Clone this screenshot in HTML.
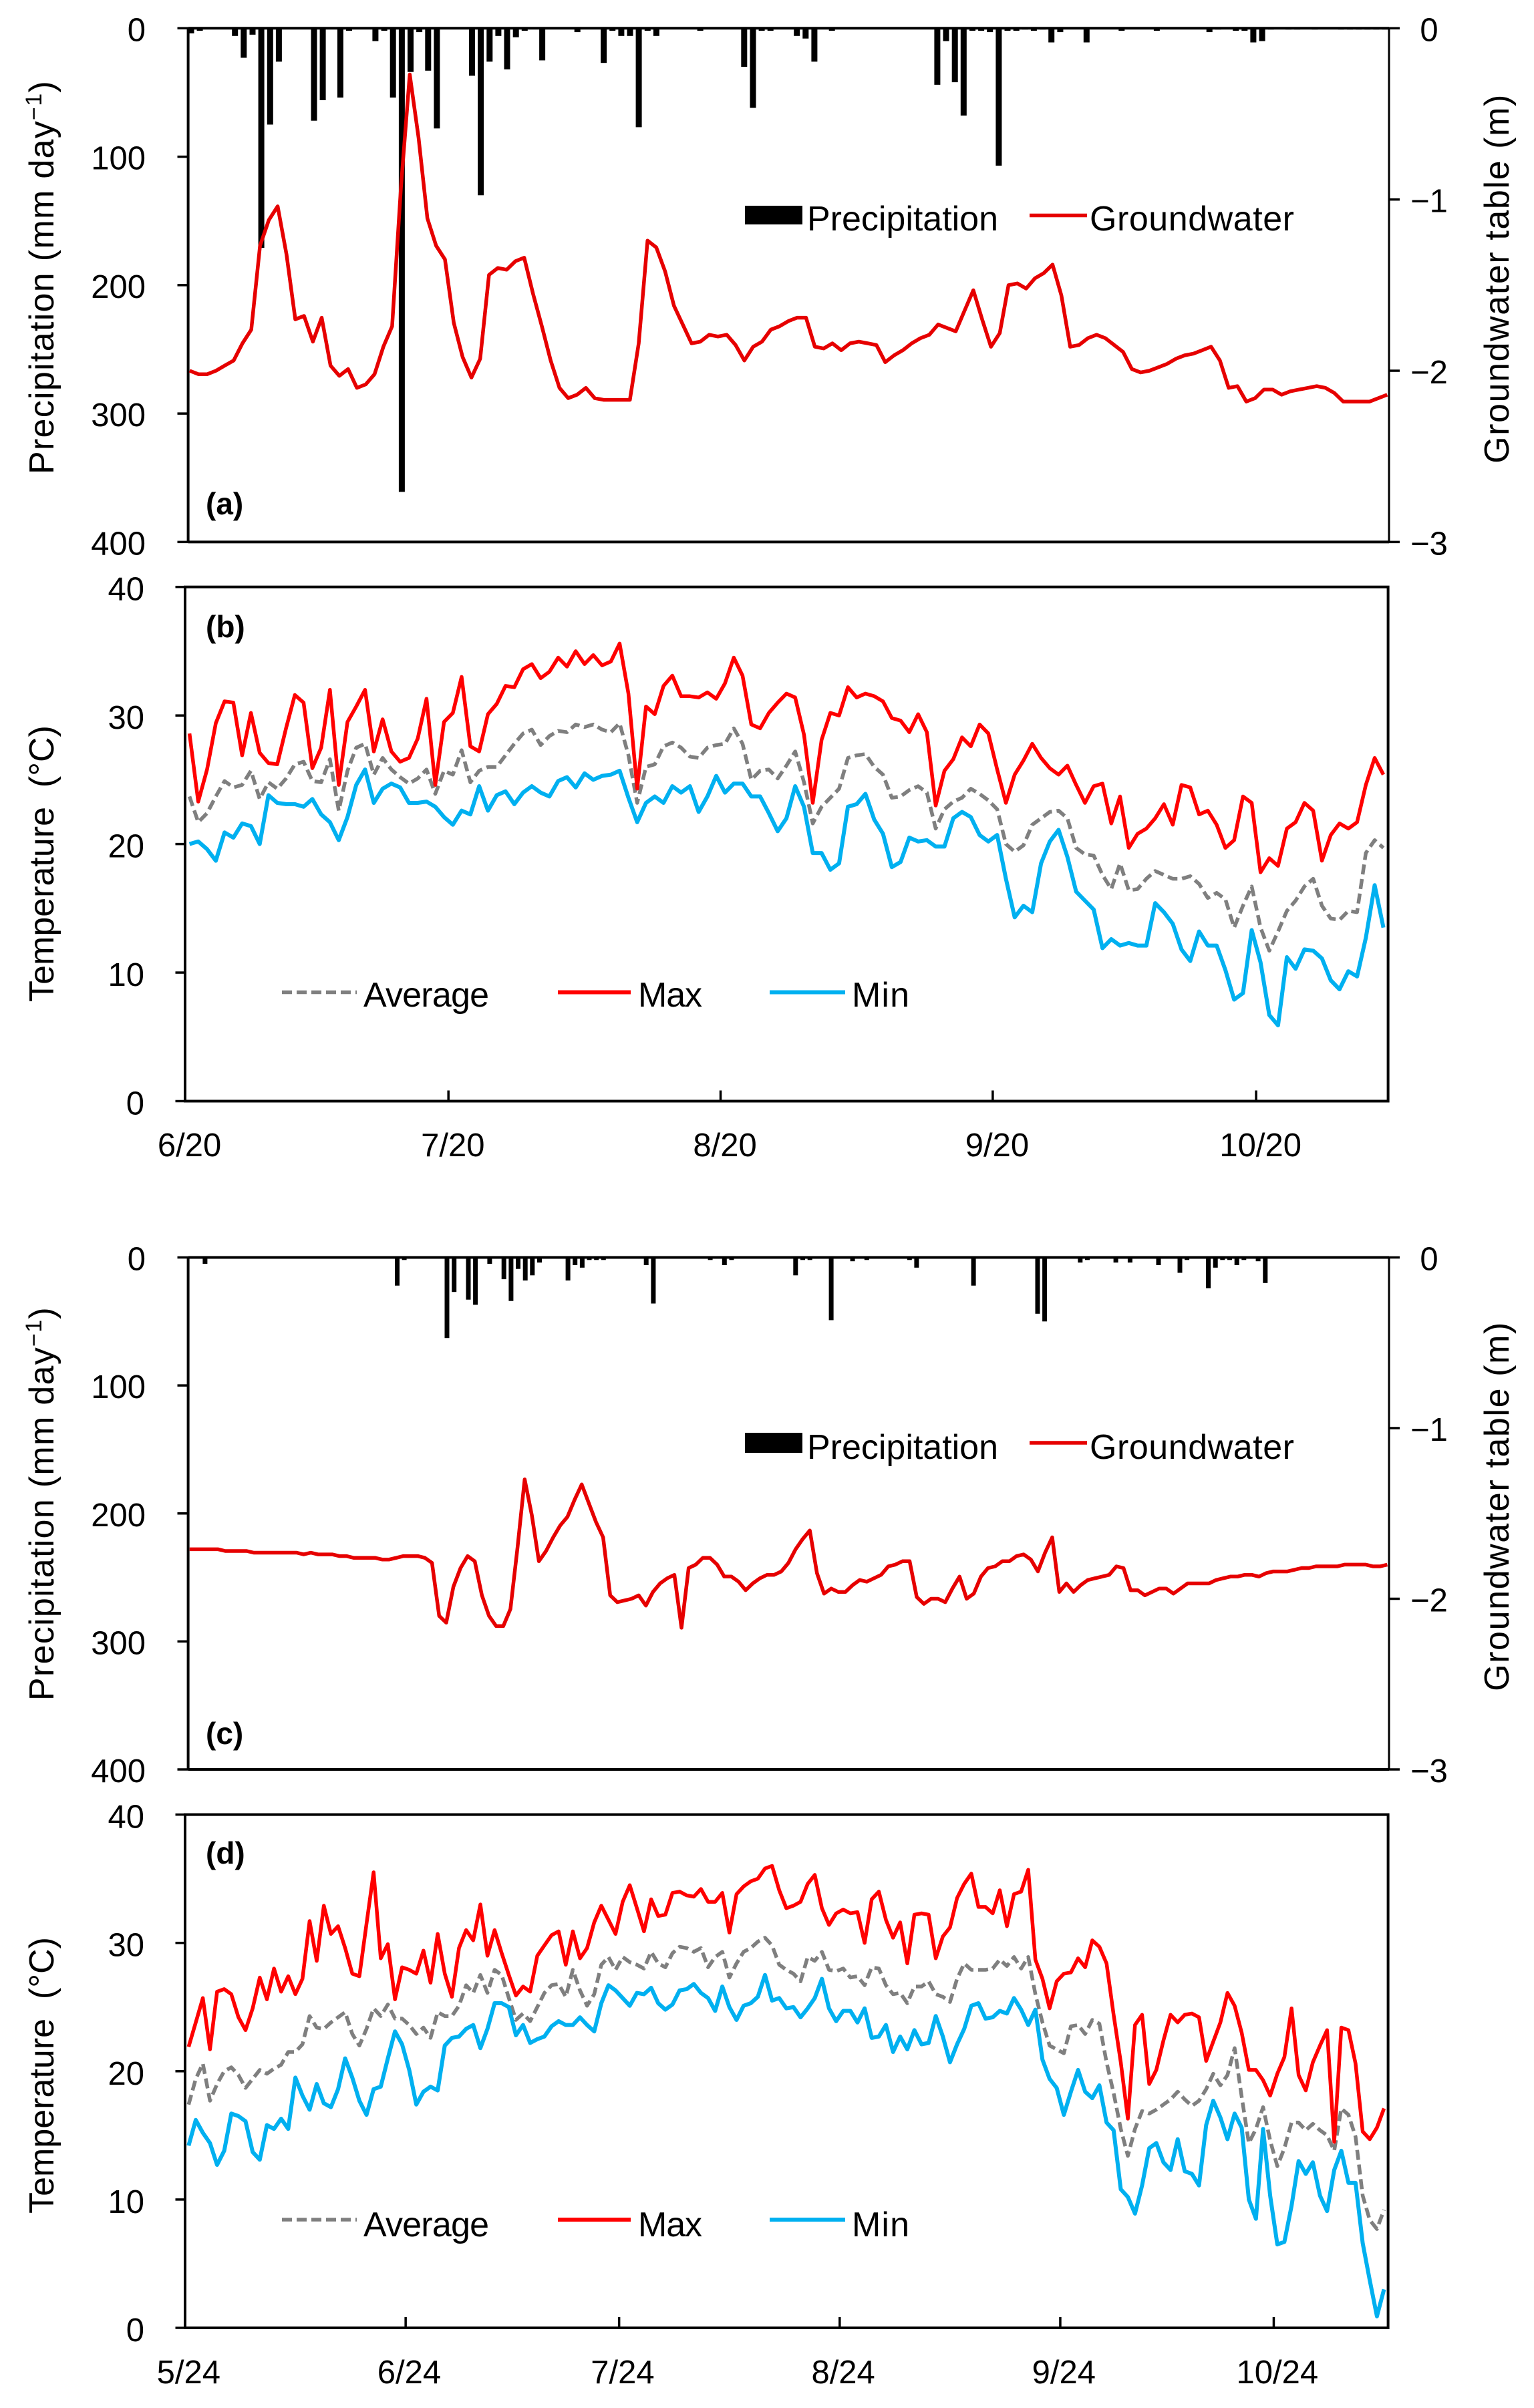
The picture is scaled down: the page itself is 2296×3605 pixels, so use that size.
<!DOCTYPE html>
<html lang="en">
<head>
<meta charset="utf-8">
<title>Precipitation, groundwater table and temperature</title>
<style>
html,body{margin:0;padding:0;background:#fff;}
svg{display:block;font-family:"Liberation Sans","Noto Sans CJK KR",sans-serif;fill:#000;}
text{fill:#000;}
.tick{font-size:49px;}
.ttl{font-size:52px;}
.leg{font-size:52px;}
.tag{font-size:46px;font-weight:bold;}
</style>
</head>
<body>
<svg id="fig" xmlns="http://www.w3.org/2000/svg" width="2296" height="3605" viewBox="0 0 2296 3605">
  <g id="panel-a"></g>
  <g id="panel-b"></g>
  <g id="panel-c"></g>
  <g id="panel-d"></g>

  <text class="ttl" transform="translate(80,415) rotate(-90)" text-anchor="middle" letter-spacing="1.3">Precipitation (mm day<tspan font-size="34" dy="-18">−1</tspan><tspan dy="18">)</tspan></text>
  <text class="ttl" transform="translate(2258,417) rotate(-90)" text-anchor="middle" letter-spacing="1.6">Groundwater table (m)</text>
  <text class="ttl" transform="translate(80,1293) rotate(-90)" text-anchor="middle" xml:space="preserve">Temperature  (°C)</text>
  <text class="ttl" transform="translate(80,2251) rotate(-90)" text-anchor="middle" letter-spacing="1.3">Precipitation (mm day<tspan font-size="34" dy="-18">−1</tspan><tspan dy="18">)</tspan></text>
  <text class="ttl" transform="translate(2258,2255) rotate(-90)" text-anchor="middle" letter-spacing="1.6">Groundwater table (m)</text>
  <text class="ttl" transform="translate(80,3107) rotate(-90)" text-anchor="middle" xml:space="preserve">Temperature  (°C)</text>

  <text class="tag" x="308" y="770">(a)</text>
  <text class="tag" x="308" y="954">(b)</text>
  <text class="tag" x="308" y="2611">(c)</text>
  <text class="tag" x="308" y="2790">(d)</text>

  <g>
    <rect x="1115" y="308" width="86" height="28" fill="#000"/>
    <text class="leg" x="1208" y="345" textLength="286">Precipitation</text>
    <line x1="1541" x2="1627" y1="322.5" y2="322.5" stroke="#e60000" stroke-width="5.5"/>
    <text class="leg" x="1631" y="345" textLength="306">Groundwater</text>
  </g>
  <g>
    <rect x="1115" y="2145" width="86" height="30" fill="#000"/>
    <text class="leg" x="1208" y="2184" textLength="286">Precipitation</text>
    <line x1="1541" x2="1627" y1="2160" y2="2160" stroke="#e60000" stroke-width="5.5"/>
    <text class="leg" x="1631" y="2184" textLength="306">Groundwater</text>
  </g>
  <g>
    <line x1="422" x2="534" y1="1485.5" y2="1485.5" stroke="#7f7f7f" stroke-width="5.5" stroke-dasharray="15 7"/>
    <text class="leg" x="544" y="1507" textLength="188">Average</text>
    <line x1="835" x2="944" y1="1485.5" y2="1485.5" stroke="#ff0000" stroke-width="6"/>
    <text class="leg" x="955" y="1507" textLength="96">Max</text>
    <line x1="1152" x2="1265" y1="1485.5" y2="1485.5" stroke="#00b0f0" stroke-width="6"/>
    <text class="leg" x="1275" y="1507" textLength="86">Min</text>
  </g>
  <g>
    <line x1="422" x2="534" y1="3323" y2="3323" stroke="#7f7f7f" stroke-width="5.5" stroke-dasharray="15 7"/>
    <text class="leg" x="544" y="3348" textLength="188">Average</text>
    <line x1="835" x2="944" y1="3323" y2="3323" stroke="#ff0000" stroke-width="6"/>
    <text class="leg" x="955" y="3348" textLength="96">Max</text>
    <line x1="1152" x2="1265" y1="3323" y2="3323" stroke="#00b0f0" stroke-width="6"/>
    <text class="leg" x="1275" y="3348" textLength="86">Min</text>
  </g>
</svg>

<script>
const precipTicks = [0, 100, 200, 300, 400];
const gwTicks = [0, -1, -2, -3];
const tempTicks = [0, 10, 20, 30, 40];
const xLabelsB = ['6/20', '7/20', '8/20', '9/20', '10/20'];
const xDaysB = [0, 30, 61, 92, 122];
const xLabelsD = ['5/24', '6/24', '7/24', '8/24', '9/24', '10/24'];
const xDaysD = [0, 31, 61, 92, 123, 153];

const precipA = [
4,2,0,0,0,6,23,5,171,75,
26,0,0,0,72,56,0,54,2,0,
0,10,2,54,361,34,3,33,78,0,
0,0,37,130,26,6,32,7,2,0,
25,0,0,0,3,0,0,27,2,6,
6,77,2,6,0,0,0,0,2,0,
0,0,0,30,62,2,2,0,0,6,
8,26,0,2,0,0,0,0,0,0,
0,0,0,0,0,44,10,42,68,2,
2,3,107,2,2,1,2,1,11,3,
0,0,11,0,0,0,2,0,0,0,
2,0,0,0,0,0,3,1,0,2,
2,11,10,1,0,1,1,0,1,0,
0,1,1,1,1,1,1];

const groundwaterA = [
-2.00,-2.02,-2.02,-2.00,-1.97,-1.94,-1.84,-1.76,-1.27,-1.12,
-1.04,-1.32,-1.70,-1.68,-1.83,-1.69,-1.97,-2.03,-1.99,-2.10,
-2.08,-2.02,-1.86,-1.74,-0.93,-0.27,-0.64,-1.11,-1.27,-1.35,
-1.72,-1.92,-2.04,-1.93,-1.44,-1.40,-1.41,-1.36,-1.34,-1.55,
-1.74,-1.94,-2.10,-2.16,-2.14,-2.10,-2.16,-2.17,-2.17,-2.17,
-2.17,-1.84,-1.24,-1.28,-1.42,-1.62,-1.73,-1.84,-1.83,-1.79,
-1.80,-1.79,-1.85,-1.94,-1.86,-1.83,-1.76,-1.74,-1.71,-1.69,
-1.69,-1.86,-1.87,-1.84,-1.88,-1.84,-1.83,-1.84,-1.85,-1.95,
-1.91,-1.88,-1.84,-1.81,-1.79,-1.73,-1.75,-1.77,-1.65,-1.53,
-1.70,-1.86,-1.78,-1.50,-1.49,-1.52,-1.46,-1.43,-1.38,-1.56,
-1.86,-1.85,-1.81,-1.79,-1.81,-1.85,-1.89,-1.99,-2.01,-2.00,
-1.98,-1.96,-1.93,-1.91,-1.90,-1.88,-1.86,-1.94,-2.10,-2.09,
-2.18,-2.16,-2.11,-2.11,-2.14,-2.12,-2.11,-2.10,-2.09,-2.10,
-2.13,-2.18,-2.18,-2.18,-2.18,-2.16,-2.14];

const maxB = [
28.6,23.3,25.8,29.4,31.1,31.0,26.9,30.2,27.1,26.3,
26.2,29.0,31.6,31.0,25.9,27.5,32.0,24.6,29.5,30.7,
32.0,27.2,29.7,27.2,26.4,26.7,28.2,31.3,24.6,29.5,
30.2,33.0,27.6,27.2,30.1,30.9,32.3,32.2,33.6,34.0,
32.9,33.4,34.5,33.8,35.0,34.0,34.7,33.9,34.2,35.6,
31.7,24.3,30.7,30.1,32.3,33.1,31.5,31.5,31.4,31.8,
31.3,32.5,34.5,33.1,29.3,29.0,30.2,31.0,31.7,31.4,
28.5,23.2,28.1,30.2,30.0,32.2,31.4,31.7,31.5,31.1,
29.8,29.6,28.7,30.1,28.7,23.0,25.7,26.6,28.3,27.6,
29.3,28.6,25.8,23.2,25.4,26.5,27.8,26.7,25.9,25.4,
26.1,24.6,23.2,24.5,24.7,21.6,23.7,19.7,20.8,21.2,
22.0,23.1,21.5,24.6,24.4,22.3,22.6,21.5,19.7,20.3,
23.7,23.2,17.8,18.9,18.3,21.2,21.7,23.2,22.6,18.7,
20.7,21.6,21.2,21.7,24.6,26.7,25.4];

const avgB = [
23.7,21.7,22.4,23.7,24.9,24.4,24.6,25.7,23.5,24.8,
24.3,25.1,26.2,26.4,24.9,24.8,26.6,22.6,25.7,27.5,
27.8,25.4,26.7,25.8,25.2,24.7,25.1,25.8,23.9,25.7,
25.4,27.3,24.8,25.7,26.0,26.0,26.9,27.8,28.6,28.9,
27.7,28.4,28.8,28.7,29.3,29.1,29.3,28.9,28.7,29.4,
26.9,23.2,26.0,26.2,27.6,27.9,27.5,26.8,26.7,27.5,
27.7,27.8,29.0,27.8,25.0,25.7,25.8,25.1,26.1,27.2,
24.8,21.6,22.9,23.6,24.3,26.7,26.9,27.0,26.0,25.4,
23.6,23.7,24.2,24.5,24.0,21.2,22.7,23.3,23.6,24.3,
23.9,23.4,22.7,20.0,19.4,19.9,21.5,22.0,22.5,22.6,
22.0,19.7,19.2,19.1,17.6,16.5,18.5,16.4,16.5,17.3,
17.9,17.6,17.3,17.3,17.5,16.9,15.8,16.2,15.7,13.5,
15.2,16.7,13.5,11.7,13.2,14.8,15.6,16.7,17.3,15.2,
14.2,14.1,14.8,14.7,19.3,20.3,19.7];

const minB = [
20.0,20.2,19.6,18.7,20.9,20.5,21.6,21.4,20.0,23.8,
23.2,23.1,23.1,22.9,23.5,22.3,21.7,20.3,22.1,24.6,
25.8,23.2,24.3,24.7,24.4,23.2,23.2,23.3,22.9,22.1,
21.5,22.6,22.3,24.5,22.6,23.8,24.1,23.1,24.0,24.5,
24.0,23.7,24.9,25.2,24.4,25.5,25.0,25.3,25.4,25.7,
23.6,21.7,23.2,23.7,23.2,24.5,24.0,24.5,22.5,23.7,
25.3,24.0,24.7,24.7,23.7,23.7,22.4,21.0,22.0,24.5,
22.9,19.3,19.3,18.0,18.5,22.9,23.1,23.9,21.9,20.8,
18.2,18.6,20.5,20.2,20.3,19.8,19.8,22.0,22.5,22.1,
20.7,20.2,20.7,17.3,14.3,15.2,14.7,18.5,20.2,21.1,
19.0,16.3,15.6,14.9,11.9,12.6,12.1,12.3,12.1,12.1,
15.4,14.7,13.8,11.8,10.9,13.2,12.1,12.1,10.2,7.9,
8.4,13.3,10.8,6.7,5.9,11.2,10.3,11.8,11.7,11.1,
9.4,8.7,10.1,9.7,12.7,16.8,13.5];

const precipC = [
0,0,5,1,0,0,0,0,1,0,
0,0,0,0,0,1,0,1,0,0,
0,0,0,1,0,0,0,0,0,22,
2,0,0,0,0,0,63,27,0,33,
37,0,5,0,17,34,9,18,14,4,
0,0,0,18,6,8,2,2,2,0,
1,0,1,0,6,36,0,0,0,0,
0,0,0,2,0,6,2,1,0,0,
0,0,0,0,1,14,2,2,0,0,
49,0,0,3,0,2,0,0,0,0,
0,2,8,0,1,0,0,0,0,0,
22,0,0,0,0,0,0,0,0,44,
50,0,0,0,0,4,2,0,0,0,
4,0,4,1,0,0,6,1,0,12,
2,0,0,24,8,2,2,6,2,0,
3,20,0,0,0,1,1,1,0,1,
1,1,0,0,1,0,0,0,0];

const groundwaterC = [
-1.71,-1.71,-1.71,-1.71,-1.71,-1.72,-1.72,-1.72,-1.72,-1.73,
-1.73,-1.73,-1.73,-1.73,-1.73,-1.73,-1.74,-1.73,-1.74,-1.74,
-1.74,-1.75,-1.75,-1.76,-1.76,-1.76,-1.76,-1.77,-1.77,-1.76,
-1.75,-1.75,-1.75,-1.76,-1.79,-2.10,-2.14,-1.93,-1.82,-1.75,
-1.78,-1.98,-2.10,-2.16,-2.16,-2.06,-1.70,-1.30,-1.51,-1.78,
-1.72,-1.64,-1.57,-1.52,-1.42,-1.33,-1.44,-1.55,-1.64,-1.98,
-2.02,-2.01,-2.00,-1.98,-2.04,-1.96,-1.91,-1.88,-1.86,-2.17,
-1.82,-1.80,-1.76,-1.76,-1.80,-1.87,-1.87,-1.90,-1.95,-1.91,
-1.88,-1.86,-1.86,-1.84,-1.79,-1.71,-1.65,-1.60,-1.85,-1.97,
-1.94,-1.96,-1.96,-1.92,-1.89,-1.90,-1.88,-1.86,-1.81,-1.80,
-1.78,-1.78,-1.99,-2.03,-2.00,-2.00,-2.02,-1.94,-1.87,-2.00,
-1.97,-1.87,-1.82,-1.81,-1.78,-1.78,-1.75,-1.74,-1.77,-1.84,
-1.73,-1.64,-1.96,-1.91,-1.96,-1.92,-1.89,-1.88,-1.87,-1.86,
-1.81,-1.82,-1.95,-1.95,-1.98,-1.96,-1.94,-1.94,-1.97,-1.94,
-1.91,-1.91,-1.91,-1.91,-1.89,-1.88,-1.87,-1.87,-1.86,-1.86,
-1.87,-1.85,-1.84,-1.84,-1.84,-1.83,-1.82,-1.82,-1.81,-1.81,
-1.81,-1.81,-1.80,-1.80,-1.80,-1.80,-1.81,-1.81,-1.80];

const maxD = [
21.9,23.8,25.7,21.7,26.2,26.4,26.0,24.2,23.2,24.9,
27.3,25.6,28.0,26.2,27.4,26.0,27.2,31.7,28.6,32.9,
30.7,31.3,29.6,27.6,27.4,31.5,35.5,28.8,29.9,25.6,
28.1,27.9,27.6,29.4,26.9,30.7,27.6,25.8,29.6,31.0,
30.2,33.0,29.0,31.0,29.2,27.5,25.9,26.6,26.2,29.0,
29.8,30.6,30.9,28.3,30.9,28.8,29.6,31.6,32.9,31.8,
30.7,33.2,34.5,32.7,30.9,33.4,32.1,32.2,33.9,34.0,
33.7,33.6,34.2,33.2,33.2,33.9,30.8,33.8,34.4,34.8,
35.0,35.8,36.0,34.1,32.7,32.9,33.2,34.6,35.3,32.7,
31.4,32.3,32.6,32.3,32.4,30.0,33.4,34.0,31.8,30.4,
31.6,28.4,32.2,32.3,32.2,28.8,30.5,31.2,33.5,34.6,
35.4,32.8,32.8,32.3,34.1,31.3,33.8,34.0,35.7,28.7,
27.2,24.9,27.0,27.6,27.7,28.8,28.1,30.2,29.7,28.4,
24.4,20.7,16.3,23.6,24.4,19.0,20.1,22.4,24.4,23.8,
24.4,24.5,24.2,20.8,22.3,23.8,26.1,25.1,23.0,20.1,
20.1,19.3,18.1,19.8,21.1,24.9,19.7,18.5,20.7,22.0,
23.2,14.5,23.4,23.2,20.6,15.3,14.7,15.6,17.1];

const avgD = [
17.4,19.4,20.6,17.7,19.0,20.0,20.3,19.7,18.7,19.4,
20.1,19.8,20.2,20.5,21.5,21.5,22.1,24.3,23.4,23.3,
23.8,24.2,24.6,22.9,22.0,23.3,24.9,24.3,25.2,24.1,
24.1,23.6,22.9,23.4,22.6,24.6,24.3,24.3,25.1,26.7,
26.1,27.5,26.1,27.9,27.5,25.7,24.0,24.5,23.9,25.0,
26.1,26.7,26.8,25.8,27.9,26.3,25.1,26.0,28.3,28.9,
27.9,28.9,28.5,28.3,28.0,29.3,28.4,28.1,29.2,29.7,
29.6,29.3,29.6,28.1,28.9,29.3,27.3,28.4,29.3,29.6,
30.1,30.4,29.8,28.3,27.9,27.6,27.0,28.9,28.6,29.3,
27.9,27.8,28.0,27.3,27.4,26.7,28.1,28.0,26.7,26.0,
26.1,25.3,26.6,26.6,27.0,26.0,25.8,25.4,27.2,28.4,
27.9,27.9,27.9,28.0,28.7,28.2,28.9,28.0,28.9,26.0,
23.8,22.0,21.7,21.4,23.5,23.6,22.9,24.0,23.7,20.7,
18.3,15.5,13.4,15.5,16.9,16.7,17.0,17.4,17.8,18.4,
17.8,17.3,17.7,18.6,19.8,18.9,19.7,21.8,18.0,14.4,
15.5,17.2,14.6,12.6,14.0,16.0,16.0,15.4,15.9,15.4,
15.0,13.8,17.1,16.6,14.9,10.3,8.4,7.7,9.2];

const minD = [
14.2,16.2,15.2,14.4,12.7,13.8,16.7,16.5,16.1,13.7,
13.1,15.8,15.5,16.3,15.5,19.5,18.1,17.0,19.0,17.5,
17.2,18.6,21.0,19.5,17.7,16.6,18.6,18.8,21.0,23.1,
22.1,20.1,17.4,18.4,18.8,18.5,22.0,22.6,22.7,23.3,
23.6,21.8,23.3,25.3,25.3,25.0,22.8,23.6,22.2,22.5,
22.7,23.5,23.9,23.6,23.6,24.2,23.6,23.1,25.3,26.7,
26.3,25.7,25.1,26.1,26.0,26.5,25.3,24.8,25.2,26.3,
26.4,26.8,26.1,25.7,24.7,26.6,25.0,24.0,25.1,25.3,
25.8,27.5,25.5,25.7,24.9,25.0,24.2,24.9,25.7,27.2,
24.9,23.9,24.7,24.7,23.8,24.9,22.6,22.7,23.6,21.5,
22.7,21.7,23.2,22.1,22.2,24.3,22.7,20.7,22.1,23.3,
25.1,25.3,24.1,24.2,24.7,24.5,25.7,24.8,23.6,24.8,
20.9,19.4,18.7,16.6,18.4,20.1,18.4,17.9,18.9,16.0,
15.4,10.8,10.2,8.9,11.1,14.0,14.4,12.9,12.3,14.7,
12.2,12.0,11.1,15.8,17.7,16.4,14.7,16.7,15.6,10.0,
8.5,15.5,10.3,6.5,6.7,9.5,13.0,12.0,12.9,10.3,
9.1,12.3,13.8,11.3,11.3,6.6,3.7,0.9,3.0];

const SVGNS = 'http://www.w3.org/2000/svg';
function make(parent, tag, attrs, txt) {
  const el = document.createElementNS(SVGNS, tag);
  for (const k in attrs) el.setAttribute(k, attrs[k]);
  if (txt !== undefined) el.textContent = txt;
  parent.appendChild(el);
  return el;
}
function linear(d0, d1, r0, r1) {
  return v => r0 + (v - d0) * (r1 - r0) / (d1 - d0);
}
function drawLine(parent, values, xFn, yFn, stroke, width, dash, name) {
  const d = values.map((v, i) => (i ? 'L' : 'M') + xFn(i).toFixed(1) + ' ' + yFn(v).toFixed(1)).join('');
  const attrs = {d: d, fill: 'none', stroke: stroke, 'stroke-width': width, 'stroke-linejoin': 'round'};
  if (dash) attrs['stroke-dasharray'] = dash;
  const path = make(parent, 'path', attrs);
  
  
}

function drawRainPanel(id, top, bottom, precip, gw, barX, barW, lineX) {
  const g = document.getElementById(id);
  const left = 281.6, right = 2079;
  const yP = linear(0, 400, top, bottom);
  const yG = linear(0, -3, top, bottom);

  precip.forEach((v, i) => {
    if (v <= 0) return;
    const bar = make(g, 'rect', {x: (barX(i) - barW / 2).toFixed(1), y: top, width: barW, height: (yP(v) - top).toFixed(1), fill: '#000'});
    
    
  });

  const leftAxis = make(g, 'line', {x1: left, x2: left, y1: top, y2: bottom, stroke: '#000', 'stroke-width': 4});
  
  
  const rightAxis = make(g, 'line', {x1: right, x2: right, y1: top, y2: bottom, stroke: '#000', 'stroke-width': 3});
  
  
  const topAxis = make(g, 'line', {x1: left, x2: right, y1: top, y2: top, stroke: '#000', 'stroke-width': 4});
  
  
  const botAxis = make(g, 'line', {x1: left, x2: right, y1: bottom, y2: bottom, stroke: '#000', 'stroke-width': 4});
  
  

  precipTicks.forEach(t => {
    const y = yP(t);
    const tick = make(g, 'line', {x1: 265.5, x2: left, y1: y, y2: y, stroke: '#000', 'stroke-width': 3.5});
    
    
    const lab = make(g, 'text', {class: 'tick', x: 218, y: y + 19, 'text-anchor': 'end'}, String(t));
    
    
  });
  gwTicks.forEach(t => {
    const y = yG(t);
    const tick = make(g, 'line', {x1: right, x2: 2095, y1: y, y2: y, stroke: '#000', 'stroke-width': 3.5});
    
    
    const lab = make(g, 'text', {class: 'tick', x: 2139, y: y + 19, 'text-anchor': 'middle'}, t < 0 ? '\u2212' + Math.abs(t) : String(t));
    
    
  });

  drawLine(g, gw, lineX, yG, '#e60000', 5.5, null, 'groundwater-line');
}

function drawTempPanel(id, top, bottom, step, xDays, xLabels, labelY, series) {
  const g = document.getElementById(id);
  const left = 277, right = 2077.6;
  const yT = linear(0, 40, bottom, top);
  const xBand = i => left + step * i;
  const xMid = i => left + step * (i + 0.5);

  const frame = make(g, 'rect', {x: left, y: top, width: right - left, height: bottom - top, fill: 'none', stroke: '#000', 'stroke-width': 4});
  
  

  tempTicks.forEach(t => {
    const y = yT(t);
    const tick = make(g, 'line', {x1: 262.5, x2: left, y1: y, y2: y, stroke: '#000', 'stroke-width': 3.5});
    
    
    const lab = make(g, 'text', {class: 'tick', x: 216, y: y + 20, 'text-anchor': 'end'}, String(t));
    
    
  });
  xDays.forEach((d, i) => {
    if (d > 0) {
      const tick = make(g, 'line', {x1: xBand(d), x2: xBand(d), y1: bottom - 16, y2: bottom, stroke: '#000', 'stroke-width': 3.5});
      
      
    }
    const lab = make(g, 'text', {class: 'tick', x: xMid(d), y: labelY, 'text-anchor': 'middle'}, xLabels[i]);
    
    
  });

  drawLine(g, series.avg, xMid, yT, '#7f7f7f', 5.5, '15 7', 'average-temperature-line');
  drawLine(g, series.max, xMid, yT, '#ff0000', 5.5, null, 'max-temperature-line');
  drawLine(g, series.min, xMid, yT, '#00b0f0', 6, null, 'min-temperature-line');
}

drawRainPanel('panel-a', 42.3, 811.4, precipA, groundwaterA, i => 286 + 13.14 * i, 9, i => 283.8 + 13.18 * i);
drawTempPanel('panel-b', 878.7, 1648.5, 13.14, xDaysB, xLabelsB, 1731, {avg: avgB, max: maxB, min: minB});
drawRainPanel('panel-c', 1882.5, 2649, precipC, groundwaterC, i => 285.6 + 10.65 * i, 7, i => 283.8 + 10.67 * i);
drawTempPanel('panel-d', 2716.6, 3485, 10.65, xDaysD, xLabelsD, 3568, {avg: avgD, max: maxD, min: minD});
</script>
</body>
</html>
